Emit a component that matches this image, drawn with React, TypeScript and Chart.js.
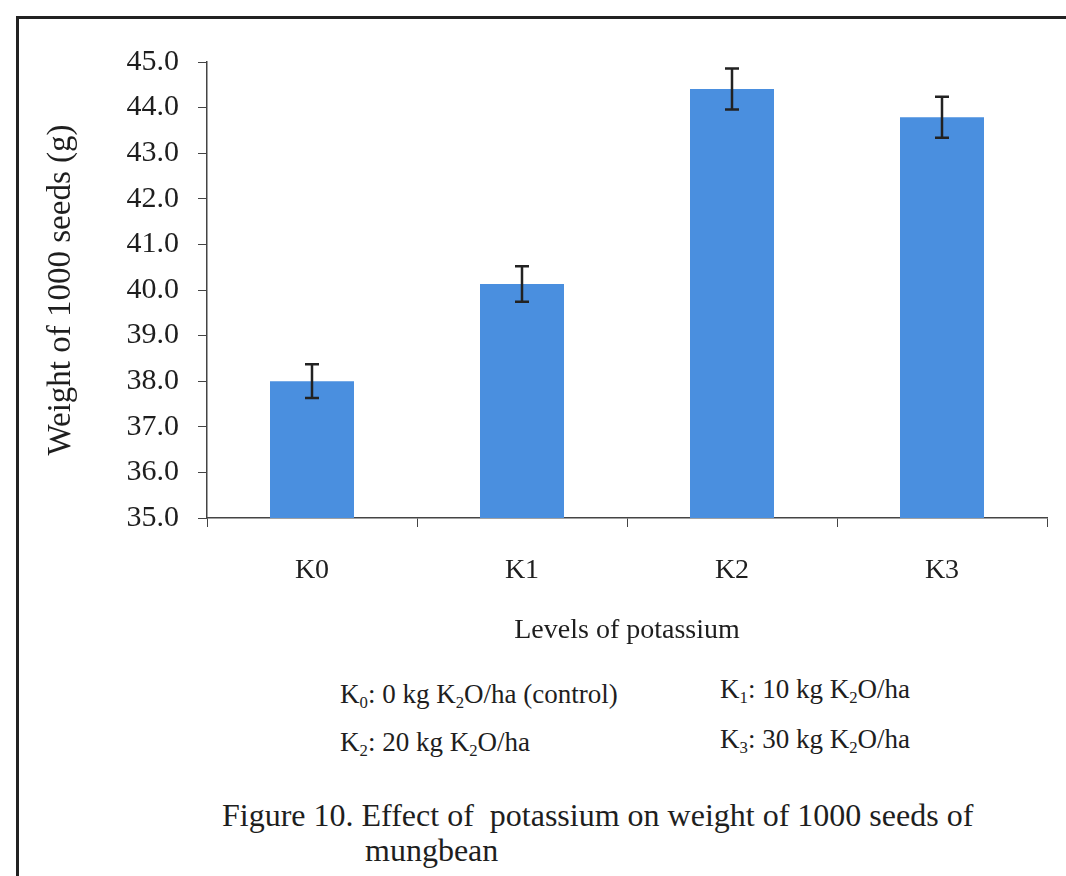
import React, { useEffect, useRef } from "react";
import { Chart, registerables } from "chart.js";

Chart.register(...registerables);

const categories = ["K0", "K1", "K2", "K3"];
const seedWeight = [38.0, 40.13, 44.41, 43.79];
const seedError = [0.37, 0.39, 0.45, 0.45];
const yTicks = [35, 36, 37, 38, 39, 40, 41, 42, 43, 44, 45];

const FONT = "'Liberation Serif', 'Times New Roman', serif";
const TEXT = "#1e1e1e";

const errorBarPlugin = {
  id: "errorBars",
  afterDatasetsDraw(chart: any) {
    const ctx = chart.ctx;
    const x = chart.scales.x;
    const y = chart.scales.y;
    ctx.save();
    ctx.strokeStyle = "#222";
    ctx.lineWidth = 2.5;
    seedWeight.forEach((v, i) => {
      const cx = x.getPixelForValue(i);
      const top = y.getPixelForValue(v + seedError[i]);
      const bot = y.getPixelForValue(v - seedError[i]);
      ctx.beginPath();
      ctx.moveTo(cx, top);
      ctx.lineTo(cx, bot);
      ctx.moveTo(cx - 7, top);
      ctx.lineTo(cx + 7, top);
      ctx.moveTo(cx - 7, bot);
      ctx.lineTo(cx + 7, bot);
      ctx.stroke();
    });
    ctx.restore();
  },
};

export default function App() {
  const ref = useRef<HTMLCanvasElement>(null);
  useEffect(() => {
    document.body.style.margin = "0";
    const chart = new Chart(ref.current!, {
      type: "bar",
      data: {
        labels: categories,
        datasets: [
          {
            data: seedWeight,
            backgroundColor: "#4a8fdf",
            borderWidth: 0,
            categoryPercentage: 1,
            barPercentage: 0.4,
          },
        ],
      },
      plugins: [errorBarPlugin],
      options: {
        animation: false,
        responsive: false,
        devicePixelRatio: 1,
        layout: { padding: { top: 62, right: 19, left: 0, bottom: 0 } },
        plugins: { legend: { display: false }, tooltip: { enabled: false } },
        scales: {
          x: {
            afterFit: (s: any) => {
              s.height = 142;
            },
            grid: {
              offset: true,
              drawOnChartArea: false,
              drawTicks: true,
              tickLength: 9,
              color: "#444",
            },
            border: { color: "#444", width: 1.5 },
            ticks: {
              color: TEXT,
              padding: 27,
              font: { family: FONT, size: 28 },
            },
            title: {
              display: true,
              text: "Levels of potassium",
              color: TEXT,
              font: { family: FONT, size: 28 },
              padding: { top: 0, bottom: 13 },
            },
          },
          y: {
            min: 35,
            max: 45,
            afterFit: (s: any) => {
              s.width = 207;
            },
            afterBuildTicks: (s: any) => {
              s.ticks = yTicks.map((v) => ({ value: v }));
            },
            grid: {
              drawOnChartArea: false,
              drawTicks: true,
              tickLength: 9,
              color: "#444",
            },
            border: { color: "#444", width: 1.5 },
            ticks: {
              color: TEXT,
              padding: 19,
              font: { family: FONT, size: 30 },
              callback: (v: any) => Number(v).toFixed(1),
            },
            title: {
              display: true,
              text: "Weight of 1000 seeds (g)",
              color: TEXT,
              font: { family: FONT, size: 33 },
              padding: { top: 42, bottom: 0 },
            },
          },
        },
      },
    });
    return () => chart.destroy();
  }, []);

  const sub = { fontSize: "0.62em", verticalAlign: "-0.3em", lineHeight: 0 } as React.CSSProperties;
  const legendStyle = (left: number, top: number): React.CSSProperties => ({
    position: "absolute",
    left,
    top,
    fontFamily: FONT,
    fontSize: 27,
    lineHeight: "30px",
    color: TEXT,
    whiteSpace: "pre",
  });
  const captionStyle = (left: number, top: number): React.CSSProperties => ({
    position: "absolute",
    left,
    top,
    fontFamily: FONT,
    fontSize: 32,
    lineHeight: "36px",
    color: TEXT,
    whiteSpace: "pre",
  });

  return (
    <div style={{ position: "relative", width: 1066, height: 876, overflow: "hidden", background: "#fff" }}>
      <div
        style={{
          position: "absolute",
          left: 16,
          top: 16,
          width: 1060,
          height: 870,
          borderLeft: "3px solid #222",
          borderTop: "3px solid #222",
        }}
      />
      <canvas ref={ref} width={1066} height={660} style={{ position: "absolute", left: 0, top: 0 }} />
      <div style={legendStyle(340, 679)}>
        K<span style={sub}>0</span>: 0 kg K<span style={sub}>2</span>O/ha (control)
      </div>
      <div style={legendStyle(720, 674)}>
        K<span style={sub}>1</span>: 10 kg K<span style={sub}>2</span>O/ha
      </div>
      <div style={legendStyle(340, 727)}>
        K<span style={sub}>2</span>: 20 kg K<span style={sub}>2</span>O/ha
      </div>
      <div style={legendStyle(720, 724)}>
        K<span style={sub}>3</span>: 30 kg K<span style={sub}>2</span>O/ha
      </div>
      <div style={captionStyle(222, 797)}>Figure 10. Effect of  potassium on weight of 1000 seeds of</div>
      <div style={captionStyle(365, 832)}>mungbean</div>
    </div>
  );
}
